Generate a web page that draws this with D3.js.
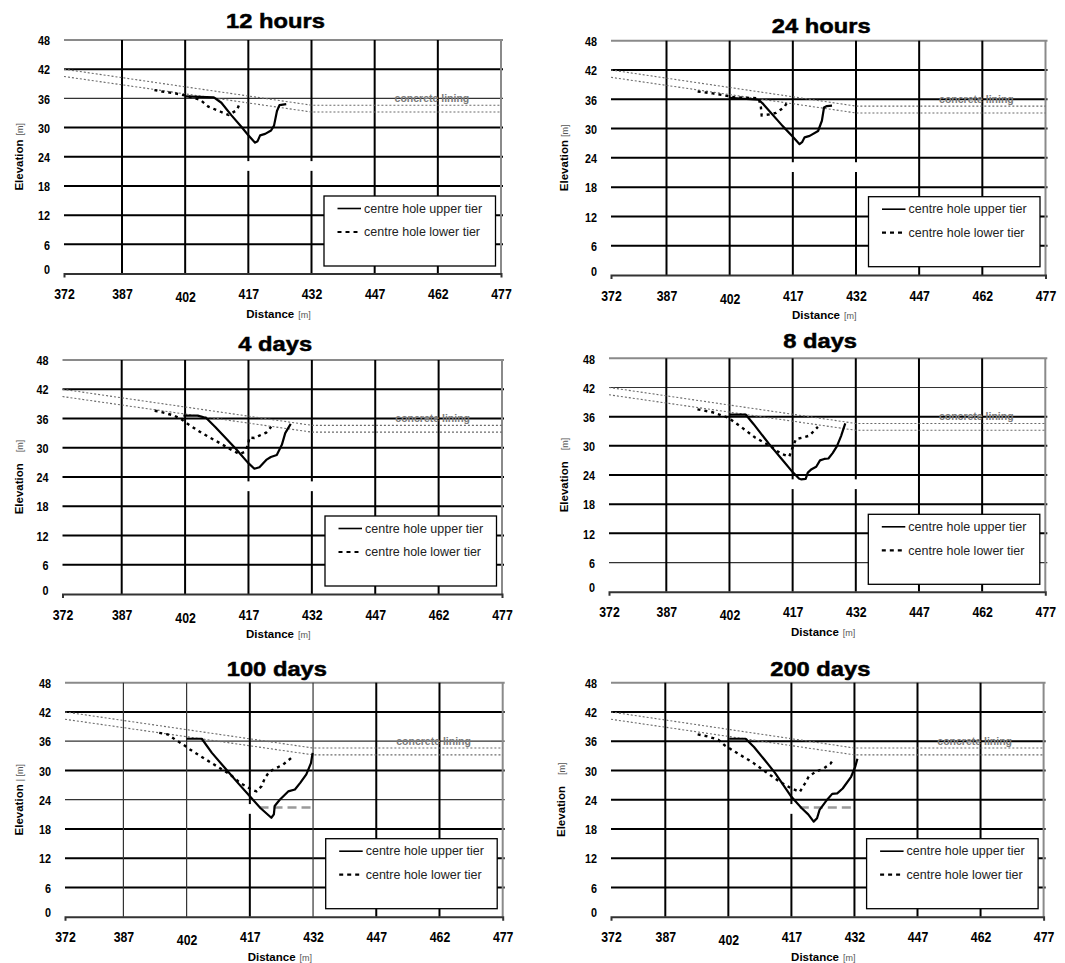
<!DOCTYPE html>
<html>
<head>
<script src="https://cdn.jsdelivr.net/npm/d3@7/dist/d3.min.js"></script>
<style>
  body { margin: 0; background: #fff; }
  text { font-family: "Liberation Sans", Arial, sans-serif; }
  .tick line { display: none; }
</style>
</head>
<body>
<script>
// ---- data ----
var panelTitles = ["12 hours", "24 hours", "4 days", "8 days", "100 days", "200 days"];
var seriesNames = ["centre hole upper tier", "centre hole lower tier"];
var xTicks = [372, 387, 402, 417, 432, 447, 462, 477];
var yTicks = [0, 6, 12, 18, 24, 30, 36, 42, 48];
var liningLabel = "concrete lining";

// concrete lining, [distance, elevation]
var liningUpper = [[372, 42], [432, 34.6], [477, 34.6]];
var liningLower = [[372, 40.5], [432, 33.2], [477, 33.2]];

var upper12h = [[402, 36.4], [408.8, 36.2], [410.6, 35.1], [413, 32.5], [415.5, 30], [417, 28.4], [418.6, 26.9], [419.2, 27.2], [419.8, 28.4], [421, 28.7], [422.4, 29.4], [423.1, 30.4], [423.8, 33.4], [424.4, 34.6], [426, 34.8]];
var lower12h = [[394.7, 37.7], [396.5, 37.4], [399.2, 37.1], [402, 36.6], [405.6, 35.7], [407.5, 34.3], [410.3, 33.3], [412.3, 32.6], [414.3, 33.6], [415, 35.1]];

var upper24h = [[402, 36.3], [408.9, 35.9], [410, 35], [414.6, 30.5], [417, 28.3], [418.6, 26.8], [419.2, 27.2], [419.8, 28.2], [421, 28.5], [423, 29.5], [423.9, 31.6], [424.4, 34.3], [425.1, 34.6], [426.3, 34.7]];
var lower24h = [[394.4, 37.6], [398, 37.2], [403.3, 36.4], [408.9, 36.2], [409.4, 34.5], [409.6, 32.7], [411.5, 32.9], [413, 33.2], [415, 34.4], [415.6, 35.3]];

var upper4d = [[401.6, 36.6], [405, 36.6], [407, 36.1], [409.2, 34.2], [414, 29.8], [416.8, 27], [418.4, 25.7], [419.6, 26], [421.2, 27.5], [422.3, 28.1], [423.7, 28.5], [424.9, 30.6], [425.7, 33], [427, 34.9]];
var lower4d = [[394.8, 37.6], [396, 37.4], [399.4, 36.6], [401.2, 35.8], [402.6, 34.9], [405.8, 33.1], [409.3, 31.4], [412.5, 29.8], [414.9, 28.7], [416, 29.1], [416.9, 30.5], [417.2, 32.1], [418.4, 32], [419.6, 32.5], [421.2, 33.1], [422.4, 34.3]];

var upper8d = [[402.1, 36.4], [405.9, 36.4], [407.7, 34.5], [411.4, 30.4], [414.5, 27.2], [417, 24.6], [418.5, 23.3], [419, 23.1], [420.1, 23.2], [420.6, 24.5], [421.5, 25.2], [422.6, 25.7], [423.5, 27], [424.5, 27.3], [425.5, 27.4], [426.5, 28.5], [427.5, 29.9], [428.5, 32], [429.5, 34.6]];
var lower8d = [[394.4, 37.5], [398, 36.9], [401.7, 35.8], [404.9, 33.8], [408.1, 31.7], [411.4, 30.1], [414.2, 28.4], [416.2, 27.8], [417, 29.7], [417.8, 31.4], [419.4, 31.7], [421, 32.1], [423, 33.9]];

var upper100d = [[402, 36.5], [405.6, 36.5], [408, 33.6], [411.1, 30.5], [414, 27.6], [417, 24.7], [419.5, 22.3], [422.1, 20.3], [422.7, 21], [422.9, 22.7], [424.1, 24], [426.1, 25.7], [427.7, 26.1], [429, 27.5], [430.4, 29.2], [431.5, 31.5], [431.9, 33.6]];
var lower100d = [[395.5, 37.7], [397.5, 37.4], [399.2, 36.4], [401.2, 35.3], [402.8, 34.3], [405.9, 32.6], [409.1, 30.9], [412.3, 29.2], [414.6, 27.5], [417.4, 26.1], [418.6, 25.7], [419.8, 26.8], [420.6, 28.5], [421.7, 29.8], [423.3, 30.5], [424.9, 31.2], [427.3, 32.9]];
var floor100d = [[419.3, 22.4], [432, 22.4]];

var upper200d = [[402.2, 36.5], [406.1, 36.5], [408.1, 34.8], [410.6, 32.2], [413.1, 29.5], [417, 24.6], [419.4, 22.3], [421, 21], [422.3, 19.5], [423.1, 20.2], [423.7, 21.9], [425.5, 24], [426.7, 25.2], [427.9, 25.3], [429.2, 26.3], [431.2, 28.7], [432.2, 30.8], [432.7, 32.4]];
var lower200d = [[394.7, 37.4], [397, 37], [399.6, 36.3], [401.2, 35.1], [404.4, 33.4], [407.7, 31.7], [410.9, 29.7], [414.2, 27.7], [417, 26.3], [419, 25.6], [420.2, 27.3], [421.1, 28.7], [422.7, 29.7], [424.7, 30.4], [426.3, 31.4], [427.1, 32.4]];
var floor200d = [[419, 22.4], [432, 22.4]];

var upperTier = [upper12h, upper24h, upper4d, upper8d, upper100d, upper200d];
var lowerTier = [lower12h, lower24h, lower4d, lower8d, lower100d, lower200d];
var floorLine = [null, null, null, null, floor100d, floor200d];

// ---- layout of the six panels (pixels) ----
var panels = [
  {left: 64,  x387: 122,   right: 501,    top: 40,    bottom: 273.5, titleY: 28,    elevX: -41, unit: "[m]",   unitGap: 4,  thinH: [36],    thinV: [],            gaps: [417, 432]},
  {left: 611, x387: 666.5, right: 1045.5, top: 40.7,  bottom: 275,   titleY: 33.3,  elevX: -43, unit: "[m]",   unitGap: 3,  thinH: [],      thinV: [],            gaps: [417, 432]},
  {left: 62.5,x387: 121.7, right: 502,    top: 360,   bottom: 594,   titleY: 350.7, elevX: -40, unit: "[m]",   unitGap: 11, thinH: [],      thinV: [],            gaps: [417, 432]},
  {left: 609, x387: 666.3, right: 1045.3, top: 358.3, bottom: 591.7, titleY: 348.3, elevX: -41, unit: "[m]",   unitGap: 11, thinH: [42, 6], thinV: [],            gaps: [417, 432]},
  {left: 65,  x387: 123.4, right: 502.7,  top: 682.7, bottom: 916.7, titleY: 676,   elevX: -42, unit: "| [m]", unitGap: 3,  thinH: [36, 24], thinV: [387, 402, 432], gaps: [417]},
  {left: 611, x387: 665.3, right: 1043.6, top: 682.7, bottom: 916.7, titleY: 676,   elevX: -46, unit: "[m]",   unitGap: 11, thinH: [],      thinV: [],            gaps: [417]}
];

var svg = d3.select("body").append("svg")
  .attr("width", 1065)
  .attr("height", 963);

svg.append("rect").attr("width", 1065).attr("height", 963).attr("fill", "#fff");

panels.forEach(function(p, i) {
  var x = d3.scaleLinear().domain([372, 387, 477]).range([p.left, p.x387, p.right]);
  var y = d3.scaleLinear().domain([0, 48]).range([p.bottom, p.top]);
  var g = svg.append("g");
  var line = d3.line().x(function(d) { return x(d[0]); }).y(function(d) { return y(d[1]); });

  // horizontal grid
  g.selectAll(".hgrid")
    .data(yTicks.filter(function(v) { return v > 0; }))
    .enter().append("line")
    .attr("x1", p.left).attr("x2", p.right + 2)
    .attr("y1", function(d) { return y(d); }).attr("y2", function(d) { return y(d); })
    .attr("stroke", function(d) { return d === 48 ? "#8a8a8a" : (p.thinH.indexOf(d) >= 0 ? "#333" : "#000"); })
    .attr("stroke-width", function(d) { return p.thinH.indexOf(d) >= 0 ? 1.2 : 2; });

  // vertical grid
  g.selectAll(".vgrid")
    .data(xTicks.filter(function(v) { return v > 372; }))
    .enter().append("line")
    .attr("x1", function(d) { return x(d); }).attr("x2", function(d) { return x(d); })
    .attr("y1", p.top).attr("y2", p.bottom)
    .attr("stroke", function(d) { return d === 477 ? "#8a8a8a" : (p.thinV.indexOf(d) >= 0 ? "#333" : "#000"); })
    .attr("stroke-width", function(d) { return p.thinV.indexOf(d) >= 0 ? 1.2 : 2; });

  // white breaks in some gridlines
  g.selectAll(".gap")
    .data(p.gaps)
    .enter().append("rect")
    .attr("x", function(d) { return x(d) - 2; })
    .attr("width", 4)
    .attr("y", y(23.1))
    .attr("height", y(21.1) - y(23.1))
    .attr("fill", "#fff");

  // bottom axis with ticks and labels
  var xAxis = d3.axisBottom(x).tickValues(xTicks).tickSizeOuter(0).tickSize(4);
  var ax = g.append("g").attr("transform", "translate(0," + p.bottom + ")").call(xAxis);
  ax.select(".domain").attr("stroke", "#333").attr("stroke-width", 2);
  ax.selectAll(".tick line").style("display", null).attr("stroke", "#333").attr("stroke-width", 1.5);
  ax.selectAll("text")
    .attr("y", 15)
    .attr("dy", function(d) { return d === 402 ? "0.92em" : "0.71em"; })
    .attr("transform", "scale(0.82,1)")
    .style("font-size", "15px").style("font-weight", "bold").attr("fill", "#000");

  var yAxis = d3.axisLeft(y).tickValues(yTicks).tickSize(0);
  var ay = g.append("g").attr("transform", "translate(" + p.left + ",0)").call(yAxis);
  ay.select(".domain").remove();
  ay.selectAll("text")
    .attr("x", -14 / 0.8)
    .attr("dy", function(d) { return d === 0 ? "0.0em" : "0.35em"; })
    .attr("transform", "scale(0.8,1)")
    .style("font-size", "13.5px").style("font-weight", "bold").attr("fill", "#000");

  // concrete lining
  [liningUpper, liningLower].forEach(function(s) {
    g.append("path").datum(s).attr("d", line)
      .attr("fill", "none").attr("stroke", "#6a6a6a").attr("stroke-width", 1.1)
      .attr("stroke-dasharray", "2,2");
  });
  g.append("text")
    .attr("x", x(460.6)).attr("y", y(36) + 3.5)
    .attr("text-anchor", "middle")
    .style("font-size", "10.5px").style("font-weight", "bold")
    .attr("fill", "#7a7a7a")
    .text(liningLabel);

  if (floorLine[i]) {
    g.append("path").datum(floorLine[i]).attr("d", line)
      .attr("fill", "none").attr("stroke", "#9a9a9a").attr("stroke-width", 2.5)
      .attr("stroke-dasharray", "9,5");
  }

  // measured profiles
  g.append("path").datum(lowerTier[i]).attr("d", line)
    .attr("fill", "none").attr("stroke", "#000").attr("stroke-width", 2.4)
    .attr("stroke-dasharray", "3,4");
  g.append("path").datum(upperTier[i]).attr("d", line)
    .attr("fill", "none").attr("stroke", "#000").attr("stroke-width", 2.2)
    .attr("stroke-linejoin", "round");

  // legend
  var lx = p.right - 177, ly = p.top + 156;
  var lg = g.append("g").attr("transform", "translate(" + lx + "," + ly + ")");
  lg.append("rect").attr("width", 171.5).attr("height", 70)
    .attr("fill", "#fff").attr("stroke", "#000").attr("stroke-width", 1.3);
  seriesNames.forEach(function(name, k) {
    var yy = 12.5 + k * 23.5;
    lg.append("line").attr("x1", 13.5).attr("x2", 37).attr("y1", yy).attr("y2", yy)
      .attr("stroke", "#000").attr("stroke-width", k === 0 ? 1.6 : 2.2)
      .attr("stroke-dasharray", k === 0 ? null : "4,4");
    lg.append("text").attr("x", 40).attr("y", yy + 4.3)
      .style("font-size", "12.5px").attr("fill", "#222").text(name);
  });

  // titles
  var cx = (p.left + p.right) / 2;
  g.append("text")
    .attr("transform", "translate(" + (cx - 7) + "," + p.titleY + ") scale(1.13,1)")
    .attr("text-anchor", "middle")
    .style("font-size", "21px").style("font-weight", "bold")
    .attr("stroke", "#000").attr("stroke-width", 0.5)
    .text(panelTitles[i]);

  var xt = g.append("text")
    .attr("x", cx - 4).attr("y", p.bottom + 44)
    .attr("text-anchor", "middle")
    .style("font-size", "11.5px").style("font-weight", "bold");
  xt.append("tspan").text("Distance");
  xt.append("tspan").attr("dx", 4).style("font-size", "9px").style("font-weight", "normal")
    .attr("fill", "#555").text("[m]");

  var yt = g.append("text")
    .attr("transform", "translate(" + (p.left + p.elevX) + "," + ((p.top + p.bottom) / 2) + ") rotate(-90)")
    .attr("text-anchor", "middle")
    .style("font-size", "11.5px").style("font-weight", "bold");
  yt.append("tspan").text("Elevation");
  yt.append("tspan").attr("dx", p.unitGap).style("font-size", "9px").style("font-weight", "normal")
    .attr("fill", "#555").text(p.unit);
});
</script>
</body>
</html>
